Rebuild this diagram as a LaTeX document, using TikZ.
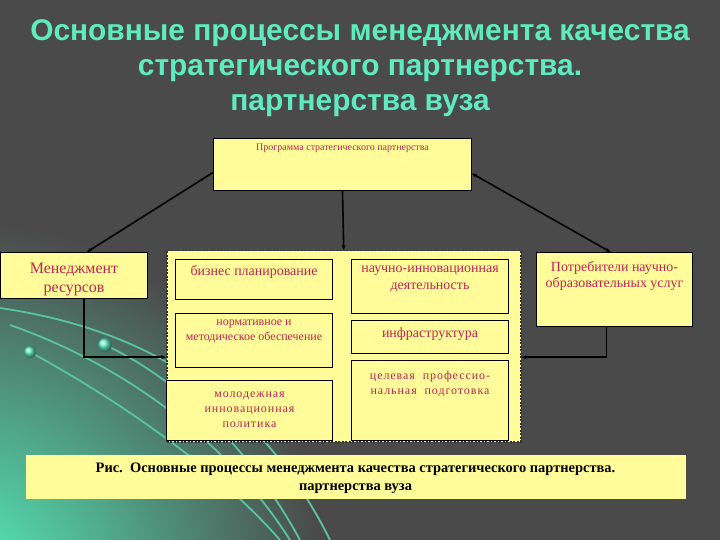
\documentclass[tikz,border=0pt]{standalone}
\usepackage{fontspec}
\setmainfont{Liberation Serif}
\newfontfamily\titlefont{Liberation Sans}
\usetikzlibrary{arrows.meta}
\definecolor{bgrey}{RGB}{74,74,74}
\definecolor{glow}{RGB}{85,235,185}
\definecolor{mint}{RGB}{95,235,190}
\definecolor{paleyel}{RGB}{255,252,153}
\definecolor{crim}{RGB}{190,35,85}
% box with its text set at the top
\newcommand{\pbox}[8]{%
 \node[pbox, minimum width=#4bp, minimum height=#5bp] (#1) at (#2,#3) {};%
 \node[ptext, anchor=north, font=#7] (#1t) at ([yshift=-#8bp]#1.north) {#6};%
}
\begin{document}
\begin{tikzpicture}[x=1bp, y=-1bp,
  pbox/.style={draw=black, line width=1bp, fill=paleyel, anchor=north west, inner sep=0pt},
  ptext/.style={text=crim, align=center, inner sep=0pt},
  link/.style={draw=black, line width=1.6bp, -{Stealth[length=5bp,width=4bp]}},
  >={Stealth[length=5bp,width=4bp]}]
  \useasboundingbox (0,0) rectangle (720,540);
  \fill[bgrey] (0,0) rectangle (720,540);
  % glow in the lower left corner
  \begin{scope}
   \clip (0,0) rectangle (720,540);
   \shade[inner color=glow, outer color=bgrey] (-30,575) circle (350bp);
   \foreach \a/\b/\c/\d in {0/308/150/330, 10/325/110/360, 30/352/100/390}
     \draw[mint!75!bgrey, line width=1.8bp] (\a,\b) .. controls (\c,\d) and (\c+110,\d+70) .. (\c+180,540);
   \draw[mint!75!bgrey, line width=1.8bp] (105,345) .. controls (160,370) and (240,430) .. (300,540);
   \shade[ball color=mint] (30,352) circle (6bp);
   \shade[ball color=mint] (105,345) circle (7bp);
  \end{scope}
  % title
  \node[text=mint, align=center, font=\titlefont\bfseries\fontsize{30}{35}\selectfont] (title) at (360,68)
    {Основные процессы менеджмента качества\\стратегического партнерства.\\партнерства вуза};
  % boxes
  \pbox{prog}{213}{138}{258}{52}{Программа стратегического партнерства}{\fontsize{10}{12}\selectfont}{6}
  \pbox{resurs}{0}{252}{147}{46}{Менеджмент\\ресурсов}{\fontsize{16}{19}\selectfont}{10.5}
  \node[pbox, draw=black!80, dashed, dash pattern=on 2bp off 1.5bp, line width=1.5bp,
    minimum width=354bp, minimum height=191bp] (cont) at (166,250) {};
  \pbox{biznes}{175}{259}{157}{40}{бизнес планирование}{\fontsize{14}{17}\selectfont}{6.5}
  \pbox{nauch}{351}{259}{157}{54}{научно-инновационная\\деятельность}{\fontsize{14}{17}\selectfont}{6.5}
  \pbox{norm}{175}{313}{157}{54}{нормативное и\\методическое обеспечение}{\fontsize{12}{15}\selectfont}{6.5}
  \pbox{infra}{351}{320}{157}{33}{инфраструктура}{\fontsize{14}{15}\selectfont}{8}
  \pbox{molod}{166}{380}{166}{60}{молодежная\\инновационная\\политика}{\fontsize{12}{15}\selectfont\addfontfeature{LetterSpace=8}}{12}
  \pbox{celev}{351}{360}{157}{80}{целевая\ \ профессио-\\нальная\ \ подготовка}{\fontsize{12}{15}\selectfont\addfontfeature{LetterSpace=8}}{11}
  \pbox{potreb}{536}{252}{156}{74}{Потребители научно-\\образовательных услуг}{\fontsize{14}{16}\selectfont}{9}
  \node[pbox, draw=none, minimum width=660bp, minimum height=44bp] (capt) at (25,454) {};
  \node[ptext, text=black, anchor=north, font=\bfseries\fontsize{14.5}{18}\selectfont] (captt) at ([yshift=-8.5bp]capt.north)
    {Рис.\ \ Основные процессы менеджмента качества стратегического партнерства.\\партнерства вуза};
  % connectors
  \draw[link] ([yshift=-8bp]prog.west) -- ([xshift=13bp]resurs.north);
  \draw[link, <->] ([yshift=-9bp]prog.east) -- ([xshift=-4bp]potreb.north);
  \draw[link] (prog.south) -- (cont.north);
  \draw[link] ([xshift=10bp]resurs.south) |- ([yshift=-11bp]cont.west);
  \draw[link] ([xshift=-8bp]potreb.south) |- ([yshift=-11bp]cont.east);
\end{tikzpicture}
\end{document}
